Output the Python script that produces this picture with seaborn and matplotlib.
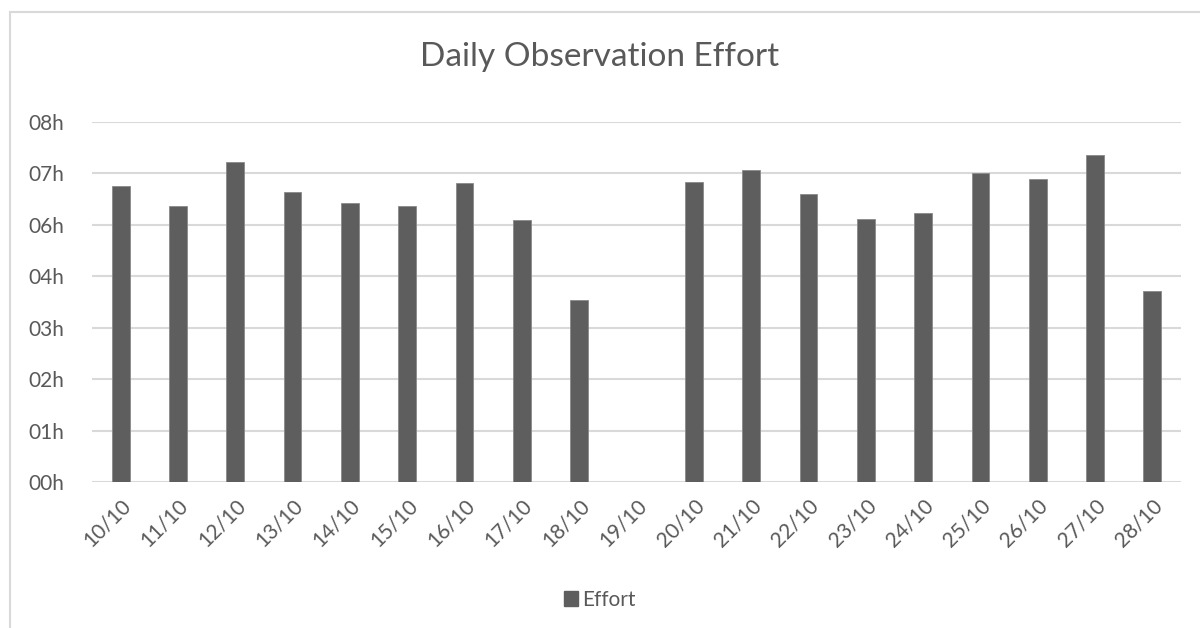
"""
Daily observation effort per day, drawn as an Excel-style bar chart.
"""
import matplotlib
matplotlib.use("Agg")
import matplotlib.pyplot as plt
import seaborn as sns
import pandas as pd
from matplotlib.patches import Rectangle, Patch

# Data (hours of observation per day)
days = ["10/10", "11/10", "12/10", "13/10", "14/10", "15/10", "16/10", "17/10",
        "18/10", "19/10", "20/10", "21/10", "22/10", "23/10", "24/10", "25/10",
        "26/10", "27/10", "28/10"]
effort_hours = [6.90, 6.43, 7.46, 6.75, 6.50, 6.43, 6.97, 6.11,
                4.24, 0.0, 6.99, 7.28, 6.72, 6.13, 6.27, 7.21,
                7.06, 7.62, 4.45]

# Axis ticks: Excel time axis, step 0.05 day (1.2 h), shown as truncated "hh"
y_ticks = [0.0, 1.2, 2.4, 3.6, 4.8, 6.0, 7.2, 8.4]
y_tick_labels = ["00h", "01h", "02h", "03h", "04h", "06h", "07h", "08h"]

TEXT = "#595959"
BAR = "#5e5e5e"
GRID = "#d9d9d9"


def main():
    sns.set_theme(style="white")
    plt.rcParams["font.family"] = ["Lato", "DejaVu Sans"]

    df = pd.DataFrame({"Day": days, "Effort": effort_hours})

    fig = plt.figure(figsize=(12, 6.28), dpi=100)
    ax = fig.add_axes([92 / 1200, 1 - 482 / 628, (1181 - 92) / 1200, (482 - 121.7) / 628])

    sns.barplot(data=df, x="Day", y="Effort", ax=ax, color=BAR, width=0.31,
                edgecolor="#8a8a8a", linewidth=0.6, saturation=1)

    ax.set_ylim(0, 8.4)
    ax.set_xlim(-0.5, len(days) - 0.5)
    ax.set_yticks(y_ticks)
    ax.set_yticklabels(y_tick_labels)
    ax.yaxis.grid(True, color=GRID, lw=1.5)
    ax.set_axisbelow(True)
    for s in ax.spines.values():
        s.set_visible(False)
    ax.tick_params(axis="both", length=0, colors=TEXT, labelsize=15)
    ax.tick_params(axis="y", pad=20)
    plt.setp(ax.get_xticklabels(), rotation=45, ha="right", rotation_mode="anchor")
    ax.tick_params(axis="x", pad=10)
    ax.set_xlabel("")
    ax.set_ylabel("")

    # Title
    fig.text(0.5, 1 - 57 / 628, "Daily Observation Effort", ha="center", va="center",
             fontsize=24, color=TEXT)

    # Legend
    fig.legend(handles=[Patch(facecolor=BAR, edgecolor=BAR, label="Effort")],
               loc="center", bbox_to_anchor=(0.5, 1 - 600 / 628), frameon=False,
               fontsize=15, labelcolor=TEXT, handlelength=0.7, handleheight=0.7,
               handletextpad=0.2)

    # Chart-area border (extends past the image edges on right/bottom)
    fig.add_artist(Rectangle((10 / 1200, -0.1), 1.2, 1.1 - 12 / 628,
                             transform=fig.transFigure, fill=False,
                             ec=GRID, lw=1.5))

    fig.savefig("out.png", dpi=100, facecolor="white")


if __name__ == "__main__":
    main()
